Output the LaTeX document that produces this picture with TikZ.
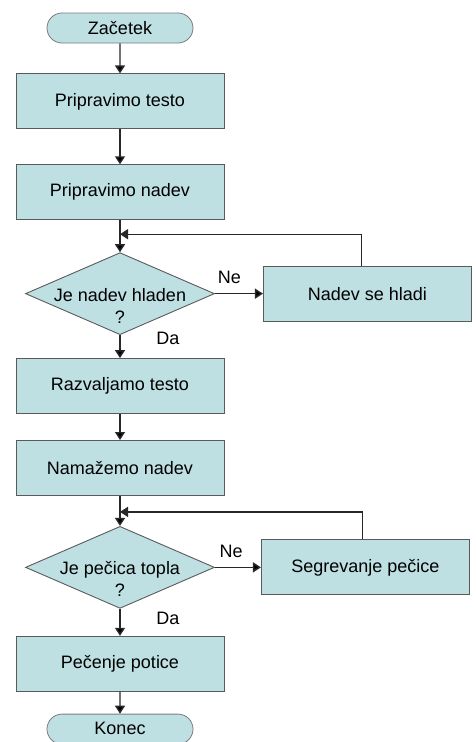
\documentclass[tikz,border=0pt]{standalone}
\usepackage{fontspec}
\setmainfont{Liberation Sans}
\usetikzlibrary{positioning,shapes.geometric,shapes.misc,arrows.meta}

\definecolor{boxfill}{RGB}{190,224,227}
\definecolor{boxline}{RGB}{90,90,90}
\definecolor{arrowline}{RGB}{40,40,40}

\tikzset{
  korak/.style={shape=rectangle,draw=boxline,fill=boxfill,line width=0.9pt,
    minimum width=208pt,minimum height=55pt,inner sep=0pt},
  terminal/.style={shape=rounded rectangle,draw=boxline!80,fill=boxfill,line width=0.8pt,
    minimum width=146pt,minimum height=30pt,inner sep=0pt},
  odlocitev/.style={shape=diamond,draw=boxline,fill=boxfill,line width=0.9pt,
    minimum width=189pt,minimum height=82pt,inner sep=0pt},
  povezava/.style={draw=arrowline,line width=1.4pt,-{Triangle[length=8pt,width=10pt]}},
}

\begin{document}
\begin{tikzpicture}[x=1pt,y=-1pt,font=\fontsize{18}{22}\selectfont,node distance=30pt]
  \useasboundingbox (0,0) rectangle (476,742);

  \node[terminal] (s) at (120,28) {Začetek};
  \node[korak] (b1) [below=30pt of s] {Pripravimo testo};
  \node[korak] (b2) [below=35pt of b1] {Pripravimo nadev};
  \node[odlocitev] (d1) [below=32pt of b2] {};
  \node[align=center] (d1t) at ([yshift=-12pt]d1.center) {Je nadev hladen\\?};
  \node[korak] (h1) [right=48pt of d1] {Nadev se hladi};
  \node[korak] (b3) [below=23pt of d1] {Razvaljamo testo};
  \node[korak] (b4) [below=26pt of b3] {Namažemo nadev};
  \node[odlocitev] (d2) [below=30pt of b4] {};
  \node[align=center] (d2t) at ([yshift=-12pt]d2.center) {Je pečica topla\\?};
  \node[korak] (h2) [right=46pt of d2] {Segrevanje pečice};
  \node[korak] (b5) [below=27pt of d2] {Pečenje potice};
  \node[terminal,text depth=2pt] (k) [below=22pt of b5] {Konec};

  \coordinate (j1) at ([yshift=-14pt]b2.south);
  \coordinate (j2) at ([yshift=-16pt]b4.south);

  \path [povezava] (s) edge (b1);
  \path [povezava] (b1) edge (b2);
  \path [povezava] (b2) edge (d1);
  \path [povezava] (d1) edge node[pos=0.3,above=6pt] (ne1) {Ne} (h1);
  \draw [povezava] ([xshift=-6pt]h1.north) |- (j1);
  \path [povezava] (d1) edge (b3);
  \node (da1) at ([xshift=48pt,yshift=-3pt]d1.south) {Da};
  \path [povezava] (b3) edge (b4);
  \path [povezava] (b4) edge (d2);
  \path [povezava] (d2) edge node[pos=0.35,above=6pt] (ne2) {Ne} (h2);
  \draw [povezava] ([xshift=-3pt]h2.north) |- (j2);
  \path [povezava] (d2) edge (b5);
  \node (da2) at ([xshift=48pt,yshift=-10pt]d2.south) {Da};
  \path [povezava] (b5) edge (k);
\end{tikzpicture}
\end{document}
